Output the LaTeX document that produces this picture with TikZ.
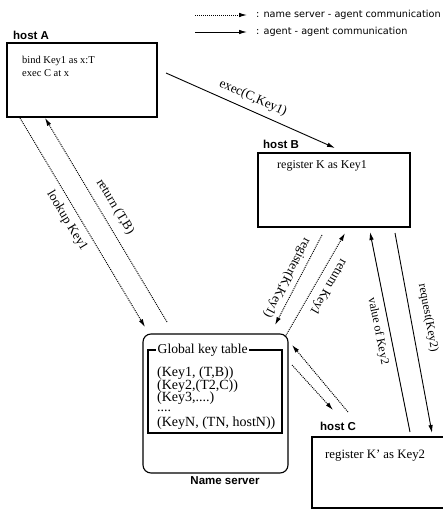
\documentclass[tikz,border=0pt]{standalone}
\usepackage{fontspec}
\setmainfont{Liberation Serif}
\setsansfont{Liberation Sans}
\newfontfamily\legendfont{DejaVu Sans}
\usetikzlibrary{arrows.meta,calc}
\begin{document}
\begin{tikzpicture}[x=1pt,y=-1pt,
  box/.style={draw,line width=1.1pt,anchor=north west,inner sep=0pt,outer sep=0pt},
  hostlbl/.style={font=\sffamily\bfseries\fontsize{11.5}{13}\selectfont,inner sep=0pt},
  txt/.style={anchor=base west,inner sep=0pt},
  nsline/.style={line width=0.95pt,dash pattern=on 1pt off 1pt,-{Latex[length=8pt,width=4.5pt]}},
  agline/.style={line width=0.9pt,-{Latex[length=8pt,width=4.5pt]}},
  lab/.style={font=\fontsize{13}{15}\selectfont,inner sep=0pt},
  labs/.style={font=\fontsize{12}{14}\selectfont,inner sep=0pt},
  legtxt/.style={font=\legendfont\fontsize{9.7}{12}\selectfont,anchor=west,inner sep=0pt},
  tbl/.style={txt,font=\fontsize{14}{15}\selectfont},
]
\useasboundingbox (0,0) rectangle (443,510);

% legend
\coordinate (l1s) at (195,15);
\coordinate (l1e) at (247,15);
\coordinate (l2s) at (195,32);
\coordinate (l2e) at (247,32);
\draw[nsline] (l1s) -- (l1e);
\draw[agline] (l2s) -- (l2e);
\node[legtxt] (lt1) at (256,15) {: name server - agent communication};
\node[legtxt] (lt2) at (256,32) {: agent - agent communication};

% host A
\node[box,minimum width=150pt,minimum height=74pt] (A) at (7,43) {};
\node[hostlbl,anchor=west] (hA) at (13,35) {host A};
\node[txt,font=\fontsize{10.5}{12}\selectfont] (tA1) at (22,64) {bind Key1 as x:T};
\node[txt,font=\fontsize{10.5}{12}\selectfont] (tA2) at (22,77) {exec C at x};

% host B
\node[box,minimum width=152pt,minimum height=74pt] (B) at (258,153) {};
\node[hostlbl,anchor=west] (hB) at (263,144) {host B};
\node[txt,font=\fontsize{12}{14}\selectfont] (tB) at (277,169) {register K as Key1};

% host C
\node[box,minimum width=134pt,minimum height=71pt] (C) at (312,437) {};
\node[hostlbl,anchor=west] (hC) at (320,426) {host C};
\node[txt,font=\fontsize{12.8}{14}\selectfont] (tC) at (325,458) {register K' as Key2};

% name server
\node[box,rounded corners=8pt,minimum width=145pt,minimum height=139pt] (NS) at (143,334) {};
\node[box,minimum width=134pt,minimum height=83pt] (T) at (148,350) {};
\node[fill=white,inner xsep=1.5pt,inner ysep=0pt,anchor=west,font=\fontsize{13.6}{15}\selectfont] (Tt) at (156,350) {Global key table};
\node[tbl] (k1) at (157,376) {(Key1, (T,B))};
\node[tbl] (k2) at (157,389) {(Key2,(T2,C))};
\node[tbl] (k3) at (157,401) {(Key3,....)};
\node[tbl] (k4) at (157,411) {....};
\node[tbl] (kN) at (157,426) {(KeyN, (TN, hostN))};
\node[hostlbl] (nsl) at (225,481) {Name server};

% connector end points
\coordinate (e1) at ($(A.east)+(9,-7)$);
\coordinate (e2) at ($(B.north west)+(77,-5)$);
\coordinate (lk1) at ($(A.south west)+(13,1)$);
\coordinate (lk2) at ($(NS.north west)+(2,-7)$);
\coordinate (rt1) at ($(NS.north west)+(24,-12)$);
\coordinate (rt2) at ($(A.south west)+(38,1)$);
\coordinate (rg1) at ($(B.south west)+(64,8)$);
\coordinate (rg2) at ($(NS.north east)+(-13,-9)$);
\coordinate (rk1) at ($(NS.north east)+(-3,3)$);
\coordinate (rk2) at ($(B.south west)+(87,6)$);
\coordinate (v1) at ($(C.north west)+(98,-5)$);
\coordinate (v2) at ($(B.south west)+(112,5)$);
\coordinate (q1) at ($(B.south west)+(137,6)$);
\coordinate (q2) at ($(C.north west)+(120,-4)$);
\coordinate (c1) at ($(C.north west)+(36,-25)$);
\coordinate (c2) at ($(NS.north east)+(4,11)$);
\coordinate (n1) at ($(NS.north east)+(4,31)$);
\coordinate (n2) at ($(C.north west)+(21,-27)$);

% connectors
\draw[agline] (e1) -- (e2);
\draw[nsline] (lk1) -- (lk2);
\draw[nsline] (rt1) -- (rt2);
\draw[nsline] (rg1) -- (rg2);
\draw[nsline] (rk1) -- (rk2);
\draw[agline] (v1) -- (v2);
\draw[agline] (q1) -- (q2);
\draw[nsline] (c1) -- (c2);
\draw[nsline] (n1) -- (n2);

% labels
\node[lab,rotate=-24] (le) at (253,98) {exec(C,Key1)};
\node[lab,rotate=-59] (llk) at (67,221) {lookup Key1};
\node[lab,rotate=-59] (lrt) at (115,207) {return (T,B)};
\node[lab,rotate=-117.6] (lrg) at (287,278) {register(K,Key1)};
\node[lab,rotate=-120] (lrk) at (328,287) {return Key1};
\node[labs,rotate=-78.7] (lv) at (378,331) {value of Key2};
\node[labs,rotate=-79.5] (lq) at (428,318) {request(Key2)};
\end{tikzpicture}
\end{document}
